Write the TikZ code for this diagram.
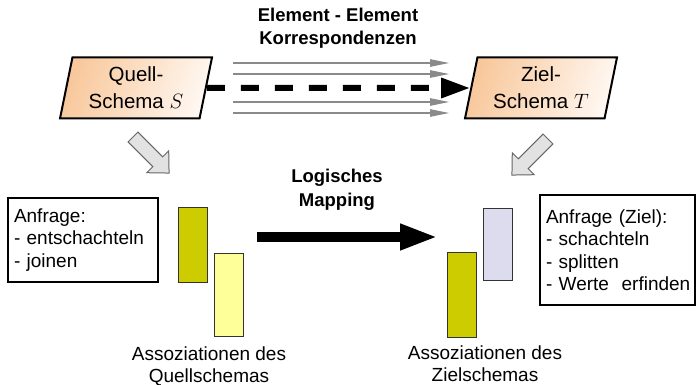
\documentclass[tikz,border=0pt]{standalone}
\usepackage{fontspec}
\setmainfont{Liberation Sans}
\usetikzlibrary{arrows.meta,shapes.geometric}
\definecolor{peachA}{HTML}{F8C89C}
\definecolor{peachB}{HTML}{FFF7F0}
\definecolor{olive}{HTML}{CCCC00}
\definecolor{paleyellow}{HTML}{FFFF99}
\definecolor{lavender}{HTML}{DCDCEE}
\definecolor{lgray}{HTML}{E2E2E2}
\definecolor{lineg}{HTML}{8A8A8A}
\tikzset{
  schema/.style={trapezium, trapezium left angle=73.5, trapezium right angle=106.5,
    trapezium stretches body, minimum width=152pt, minimum height=61pt,
    draw=black, line width=2pt, left color=peachA, right color=peachB,
    shading angle=70, inner sep=0pt, align=center,
    font=\fontsize{20.5}{27}\selectfont},
  qbox/.style={draw=black, line width=2.4pt, rectangle, align=left, inner xsep=6pt,
    font=\fontsize{19}{22.5}\selectfont},
  assoc/.style={draw=black!80, line width=0.8pt, rectangle, inner sep=0pt},
  caption/.style={align=center, font=\fontsize{19}{22}\selectfont, inner sep=0pt},
  boldlbl/.style={align=center, font=\bfseries\fontsize{18.5}{22.5}\selectfont, inner sep=0pt},
  grayarrow/.style={draw=lineg, line width=2.4pt, -{Triangle[length=20pt,width=7pt]}},
  dasharrow/.style={draw=black, line width=6pt, dash pattern=on 18pt off 16pt,
    -{Triangle[length=29pt,width=19pt]}},
  bigarrow/.style={draw=black, line width=10pt, -{Triangle[length=38pt,width=24pt]}},
  blockarrow/.style={draw=black!60, fill=lgray, line width=1pt, line join=miter}
}
\begin{document}
\begin{tikzpicture}[x=1pt,y=1pt]
\useasboundingbox (0,0) rectangle (697,-385);

% title
\node[boldlbl] (title) at (338,-28) {Element - Element\\Korrespondenzen};

% schemas
\node[schema] (S) at (136,-88) {Quell-\\Schema $S$};
\node[schema] (T) at (541,-88) {Ziel-\\Schema $T$};

% gray correspondence arrows
\foreach \i/\y in {1/63,2/74,3/102,4/113}{
  \coordinate (gs\i) at (233,-\y);
  \coordinate (ge\i) at (450,-\y);
  \draw[grayarrow] (gs\i) -- (ge\i);
}
% dashed arrow
\draw[dasharrow] (S) -- (T);

% block arrows
\draw[blockarrow, shift={(133,-137)}, rotate=-45]
  (0,7) -- (35,7) -- (35,15.5) -- (51,0) -- (35,-15.5) -- (35,-7) -- (0,-7) -- cycle;
\draw[blockarrow, shift={(548,-139)}, rotate=-135]
  (0,7) -- (35,7) -- (35,15.5) -- (51,0) -- (35,-15.5) -- (35,-7) -- (0,-7) -- cycle;

% query boxes
\node[qbox, minimum width=150pt, minimum height=84pt, text width=138pt] (qS) at (83,-240)
  {Anfrage:\\- entschachteln\\- joinen};
\node[qbox, minimum width=155pt, minimum height=110pt, text width=143pt] (qT) at (617.5,-250)
  {Anfrage (Ziel):\\- schachteln\\- splitten\\\mbox{- Werte\ \ erfinden}};

% association rectangles
\node[assoc, fill=olive, minimum width=29pt, minimum height=75pt] (a1) at (192.5,-244.5) {};
\node[assoc, fill=paleyellow, minimum width=29pt, minimum height=83pt] (a2) at (228.5,-294.5) {};
\node[assoc, fill=olive, minimum width=29pt, minimum height=85pt] (b1) at (461.5,-294.5) {};
\node[assoc, fill=lavender, minimum width=29pt, minimum height=72pt] (b2) at (497.5,-244) {};

% logical mapping
\node[boldlbl, font=\bfseries\fontsize{18.5}{24}\selectfont] (lm) at (337,-190) {Logisches\\Mapping};
\coordinate (ms) at (257,-237);
\coordinate (me) at (438,-237);
\draw[bigarrow] (ms) -- (me);

% captions
\node[caption] (cS) at (209,-366) {Assoziationen des\\Quellschemas};
\node[caption] (cT) at (485,-364) {Assoziationen des\\Zielschemas};
\end{tikzpicture}
\end{document}
